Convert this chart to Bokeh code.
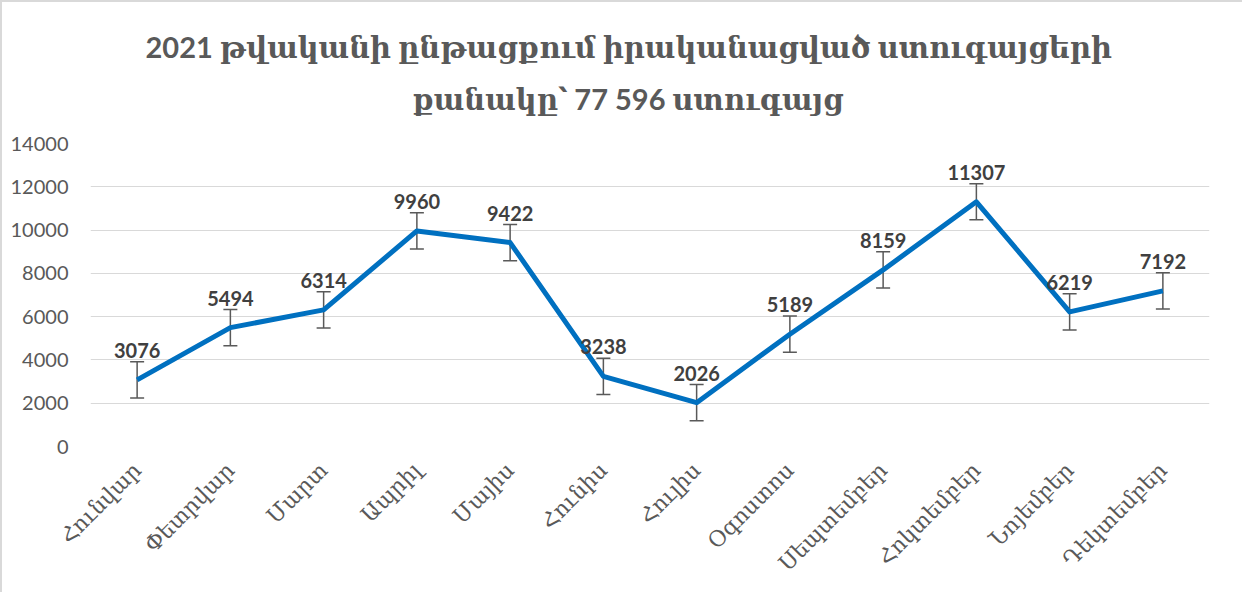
from bokeh.plotting import figure
from bokeh.models import ColumnDataSource, Range1d, FactorRange, FixedTicker, Whisker, TeeHead, Title
from bokeh.embed import file_html
from bokeh.resources import INLINE
from bokeh.core.properties import value

months = ["Հունվար", "Փետրվար", "Մարտ", "Ապրիլ", "Մայիս", "Հունիս",
          "Հուլիս", "Օգոստոս", "Սեպտեմբեր", "Հոկտեմբեր", "Նոյեմբեր", "Դեկտեմբեր"]
visits = [3076, 5494, 6314, 9960, 9422, 3238, 2026, 5189, 8159, 11307, 6219, 7192]
errors = [835, 835, 835, 835, 835, 835, 835, 835, 835, 835, 835, 835]
y_ticks = [0, 2000, 4000, 6000, 8000, 10000, 12000, 14000]
title_line1 = "2021 թվականի ընթացքում իրականացված ստուգայցերի"
title_line2 = "քանակը՝ 77 596 ստուգայց"

src = ColumnDataSource(dict(
    x=months, y=visits,
    upper=[v + e for v, e in zip(visits, errors)],
    lower=[v - e for v, e in zip(visits, errors)],
    label=[str(v) for v in visits],
))

GREY = "#595959"
NUM_FONT = "Lato, DejaVu Serif"

p = figure(x_range=FactorRange(*months), y_range=Range1d(0, 14000),
           width=1242, height=592, output_backend="svg", toolbar_location=None,
           min_border_left=88, min_border_right=35, min_border_top=141, min_border_bottom=148)
p.styles = {"border-left": "2px solid #d9d9d9", "border-top": "2px solid #d9d9d9"}
p.title = None
p.outline_line_color = None
p.background_fill_color = "white"
p.border_fill_color = "white"

t2 = Title(text=title_line2, align="left", offset=322, standoff=55,
           text_font_size="29px", text_font=NUM_FONT, text_font_style="bold",
           text_color=GREY)
t1 = Title(text=title_line1, align="left", offset=55, standoff=0,
           text_font_size="29px", text_font=NUM_FONT,
           text_font_style="bold", text_color=GREY)
try:
    t1.standoff = -24
except Exception:
    t1.standoff = 0
p.add_layout(t2, "above")
p.add_layout(t1, "above")

p.xgrid.grid_line_color = None
p.ygrid.grid_line_color = "#d9d9d9"
p.ygrid.grid_line_width = 1

p.yaxis.ticker = FixedTicker(ticks=y_ticks)
p.yaxis.axis_line_color = None
p.yaxis.major_tick_line_color = None
p.yaxis.minor_tick_line_color = None
p.yaxis.major_label_text_font = NUM_FONT
p.yaxis.major_label_text_font_size = "20px"
p.yaxis.major_label_text_color = GREY
p.yaxis.major_label_standoff = 16

p.xaxis.axis_line_color = None
p.xaxis.major_tick_line_color = None
p.xaxis.major_label_orientation = 0.785398
p.xaxis.major_label_text_font = "DejaVu Serif"
p.xaxis.major_label_text_font_size = "22px"
p.xaxis.major_label_text_color = GREY
p.xaxis.major_label_standoff = 14

p.line(x="x", y="y", source=src, line_color="#0070C0", line_width=5, line_join="round")

whisk = Whisker(source=src, base="x", upper="upper", lower="lower",
                line_color=GREY, line_width=1.5,
                upper_head=TeeHead(size=14, line_color=GREY, line_width=1.5),
                lower_head=TeeHead(size=14, line_color=GREY, line_width=1.5))
p.add_layout(whisk)

p.text(x="x", y="y", text="label", source=src, text_align="center", text_baseline="bottom",
       y_offset=-22, text_font=value(NUM_FONT), text_font_size="20px", text_font_style="bold",
       text_color="#404040")

open("out.html", "w").write(file_html(p, INLINE))
